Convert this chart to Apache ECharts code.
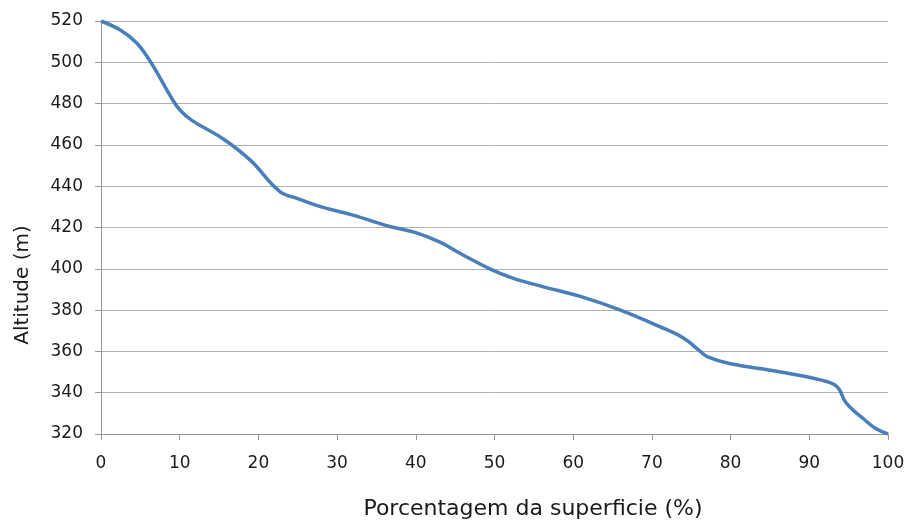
<!DOCTYPE html>
<html><head><meta charset="utf-8">
<script src="https://cdn.jsdelivr.net/npm/echarts@6/dist/echarts.min.js"></script>
<style>html,body{margin:0;padding:0;background:#fff}#c{width:909px;height:524px}</style>
</head><body><div id="c"></div>
<script>
const percent = [0, 2.5, 4.5, 6, 7.5, 9, 10, 11.5, 15.5, 19, 22.7, 25, 28, 32, 36.7, 40, 43, 46, 49.4, 52.4, 56, 61, 66, 71, 74, 76, 77, 80, 86, 91.4, 93.5, 94.7, 97, 98.5, 100];
const altitude = [520, 515.5, 509.5, 502, 492.5, 482.5, 477, 472, 463, 452.5, 437.5, 434, 430, 426, 420.5, 417.5, 413, 406.7, 400, 395.4, 391.5, 386.5, 380, 372, 366.5, 360.5, 357.5, 354, 350.3, 346.2, 343, 335, 327, 322.5, 320];
const xTitle = 'Porcentagem da superficie (%)';
const yTitle = 'Altitude (m)';

const chart = echarts.init(document.getElementById('c'));
const font = '"DejaVu Sans", sans-serif';
chart.setOption({
  animation: false,
  grid: {left: 101, right: 21, top: 21, bottom: 90, containLabel: false, outerBoundsMode: 'none'},
  graphic: [
    {type: 'text', x: 533, y: 509, style: {text: xTitle, align: 'center', verticalAlign: 'middle', font: '22px "DejaVu Sans", sans-serif', fill: '#1a1a1a'}},
    {type: 'text', x: 23, y: 285, rotation: Math.PI / 2, style: {text: yTitle, align: 'center', verticalAlign: 'middle', font: '20px "DejaVu Sans", sans-serif', fill: '#1a1a1a'}}
  ],
  xAxis: {
    type: 'value', min: 0, max: 100, interval: 10,
    axisLine: {show: true, onZero: false, lineStyle: {color: '#999', width: 1}},
    axisTick: {show: true, length: 6, lineStyle: {color: '#999'}},
    axisLabel: {fontFamily: font, fontSize: 17, color: '#1a1a1a', margin: 21},
    splitLine: {show: false}
  },
  yAxis: {
    type: 'value', min: 320, max: 520, interval: 20,
    axisLine: {show: true, lineStyle: {color: '#999', width: 1}},
    axisTick: {show: true, length: 6, lineStyle: {color: '#999'}},
    axisLabel: {fontFamily: font, fontSize: 17, color: '#1a1a1a', margin: 18},
    splitLine: {show: true, lineStyle: {color: '#b0b0b0', width: 1}}
  },
  series: [{
    type: 'line', smooth: 0.4, showSymbol: false,
    data: percent.map((p, i) => [p, altitude[i]]),
    lineStyle: {color: '#4a7ebb', width: 3.5}
  }]
});
</script></body></html>
